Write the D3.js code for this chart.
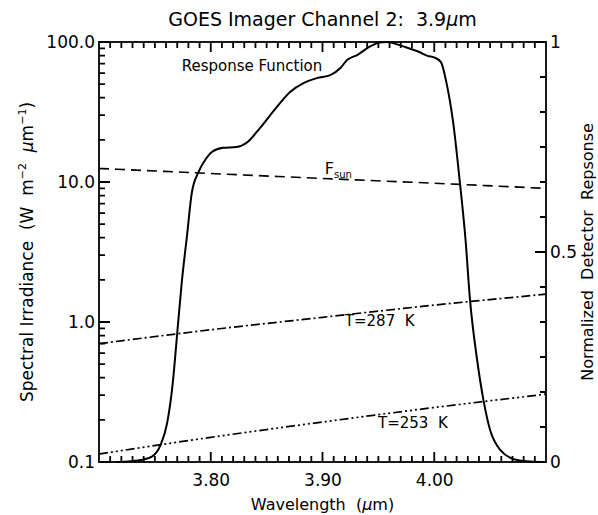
<!DOCTYPE html>
<html>
<head>
<meta charset="utf-8">
<script src="https://cdn.jsdelivr.net/npm/d3@7"></script>
<style>
  body { margin: 0; background: #fff; }
  svg { font-family: "DejaVu Sans", sans-serif; }
  .axis text { font-size: 17px; fill: #000; font-family: "DejaVu Sans", sans-serif; }
  .axis path { display: none; }
</style>
</head>
<body>
<div id="chart"></div>
<script>
// detector response (right axis)
var respWavelength = [3.715, 3.728, 3.738, 3.747, 3.755, 3.761, 3.766, 3.770, 3.774, 3.779,
    3.783, 3.789, 3.795, 3.801, 3.811, 3.823, 3.833, 3.844, 3.859, 3.871,
    3.883, 3.895, 3.907, 3.916, 3.922, 3.931, 3.943, 3.951, 3.958, 3.966, 3.974,
    3.985, 3.994, 4.001, 4.006, 4.011, 4.017, 4.023, 4.028, 4.032, 4.038,
    4.044, 4.050, 4.059, 4.074, 4.095];
var respValue = [0.000, 0.002, 0.005, 0.012, 0.040, 0.093, 0.188, 0.307, 0.426, 0.545,
    0.640, 0.690, 0.719, 0.738, 0.748, 0.750, 0.762, 0.795, 0.845, 0.881,
    0.902, 0.914, 0.921, 0.938, 0.957, 0.969, 0.990, 0.999, 1.000, 0.995, 0.988,
    0.978, 0.967, 0.962, 0.952, 0.902, 0.807, 0.664, 0.529, 0.386, 0.250,
    0.148, 0.076, 0.029, 0.005, 0.000];

// irradiance curves (left axis, log)
var irrWavelength = [3.70, 3.80, 3.90, 4.00, 4.10];
var fsun = [12.5, 11.5, 10.6, 9.8, 9.0];
var t287 = [0.70, 0.88, 1.08, 1.32, 1.58];
var t253 = [0.114, 0.150, 0.193, 0.245, 0.305];

var xTicks = [3.80, 3.90, 4.00];
var yTicks = [0.1, 1, 10, 100];
var rTicks = [0, 0.5, 1];

var margin = { top: 42, right: 52, bottom: 53, left: 99 };
var width = 598, height = 515;
var w = width - margin.left - margin.right;
var h = height - margin.top - margin.bottom;

var svg = d3.select("#chart").append("svg")
    .attr("width", width)
    .attr("height", height);
var g = svg.append("g")
    .attr("transform", "translate(" + margin.left + "," + margin.top + ")");

var x = d3.scaleLinear().domain([3.70, 4.10]).range([0, w]);
var y = d3.scaleLog().domain([0.1, 100]).range([h, 0]);
var yr = d3.scaleLinear().domain([0, 1]).range([h, 0]);

// minor tick values
var xMinor = d3.range(371, 410).map(function (d) { return d / 100; })
    .filter(function (d) { return Math.round(d * 100) % 10 != 0; });
var yMinor = [];
[0.1, 1, 10].forEach(function (dec) {
    for (var k = 2; k <= 9; k++) yMinor.push(dec * k);
});
var rMinor = d3.range(1, 12).filter(function (d) { return d != 6; })
    .map(function (d) { return d / 12; });

// tick marks point inward on all four sides (drawn as one path)
var tickPath = d3.path();
function hTicks(vals, len) {
    vals.forEach(function (v) {
        tickPath.moveTo(x(v), h); tickPath.lineTo(x(v), h - len);
        tickPath.moveTo(x(v), 0); tickPath.lineTo(x(v), len);
    });
}
function vTicks(scale, vals, len, xpos, dir) {
    vals.forEach(function (v) {
        tickPath.moveTo(xpos, scale(v)); tickPath.lineTo(xpos + dir * len, scale(v));
    });
}
hTicks(xTicks, 10);
hTicks(xMinor, 6);
vTicks(y, yTicks, 11, 0, 1);
vTicks(y, yMinor, 6, 0, 1);
vTicks(yr, rTicks, 11, w, -1);
vTicks(yr, rMinor, 6, w, -1);
g.append("path").attr("d", tickPath.toString())
    .attr("fill", "none").attr("stroke", "#000").attr("stroke-width", 1.8);

// tick labels via axes
g.append("g").attr("class", "axis").attr("transform", "translate(0," + h + ")")
    .call(d3.axisBottom(x).tickValues(xTicks).tickSize(0).tickPadding(12)
        .tickFormat(d3.format(".2f")));
g.append("g").attr("class", "axis")
    .call(d3.axisLeft(y).tickValues(yTicks).tickSize(0).tickPadding(4)
        .tickFormat(function (d) { return d < 1 ? "0.1" : d3.format(".1f")(d); }));
g.append("g").attr("class", "axis").attr("transform", "translate(" + w + ",0)")
    .call(d3.axisRight(yr).tickValues(rTicks).tickSize(0).tickPadding(4)
        .tickFormat(function (d) { return d == 0.5 ? "0.5" : d3.format("d")(d); }));

g.append("rect")
    .attr("width", w).attr("height", h)
    .attr("fill", "none").attr("stroke", "#000").attr("stroke-width", 1.8);

// curves
var irrLine = function (vals) {
    return d3.line()
        .x(function (d, i) { return x(irrWavelength[i]); })
        .y(function (d) { return y(d); })
        .curve(d3.curveMonotoneX)(vals);
};

g.append("path").attr("d", irrLine(fsun))
    .attr("fill", "none").attr("stroke", "#000").attr("stroke-width", 1.6)
    .attr("stroke-dasharray", "10,6");
g.append("path").attr("d", irrLine(t287))
    .attr("fill", "none").attr("stroke", "#000").attr("stroke-width", 1.7)
    .attr("stroke-dasharray", "9,3,2,3");
g.append("path").attr("d", irrLine(t253))
    .attr("fill", "none").attr("stroke", "#000").attr("stroke-width", 1.7)
    .attr("stroke-dasharray", "9,3,2,3,2,3,2,3");

var respLine = d3.line()
    .x(function (d, i) { return x(respWavelength[i]); })
    .y(function (d) { return yr(d); })
    .curve(d3.curveMonotoneX);
g.append("path").attr("d", respLine(respValue))
    .attr("fill", "none").attr("stroke", "#000").attr("stroke-width", 2);

// labels on the curves
g.append("text").attr("x", x(3.774)).attr("y", yr(0.931))
    .style("font-size", "15px").text("Response Function");
var fs = g.append("text").attr("x", x(3.902)).attr("y", y(11.4))
    .style("font-size", "16px");
fs.append("tspan").text("F");
fs.append("tspan").attr("dy", 4).style("font-size", "10px").text("sun");
g.append("text").attr("x", x(3.920)).attr("y", y(0.94))
    .style("font-size", "15px").style("white-space", "pre").text("T=287  K");
g.append("text").attr("x", x(3.9497)).attr("y", y(0.175))
    .style("font-size", "15px").style("white-space", "pre").text("T=253  K");

// titles
svg.append("text").attr("x", margin.left + w / 2).attr("y", 26)
    .attr("text-anchor", "middle").style("font-size", "19px").style("white-space", "pre")
    .html("GOES Imager Channel 2:  3.9<tspan font-style='italic'>\u03bc</tspan>m");

svg.append("text").attr("x", margin.left + w / 2).attr("y", 510)
    .attr("text-anchor", "middle").style("font-size", "16px").style("white-space", "pre")
    .html("Wavelength  (<tspan font-style='italic'>\u03bc</tspan>m)");

var yl = svg.append("text")
    .attr("transform", "translate(33," + (margin.top + h / 2) + ") rotate(-90)")
    .attr("text-anchor", "middle").style("font-size", "17px").style("white-space", "pre");
yl.append("tspan").text("Spectral Irradiance  (W  m");
yl.append("tspan").attr("dy", -7).style("font-size", "11px").text("\u22122");
yl.append("tspan").attr("dy", 7).text("  ");
yl.append("tspan").attr("font-style", "italic").text("\u03bc");
yl.append("tspan").text("m");
yl.append("tspan").attr("dy", -7).style("font-size", "11px").text("\u22121");
yl.append("tspan").attr("dy", 7).text(")");

svg.append("text")
    .attr("transform", "translate(" + 593 + "," + (margin.top + h / 2) + ") rotate(-90)")
    .attr("text-anchor", "middle").style("font-size", "16px").style("white-space", "pre")
    .text("Normalized  Detector  Repsonse");
</script>
</body>
</html>
